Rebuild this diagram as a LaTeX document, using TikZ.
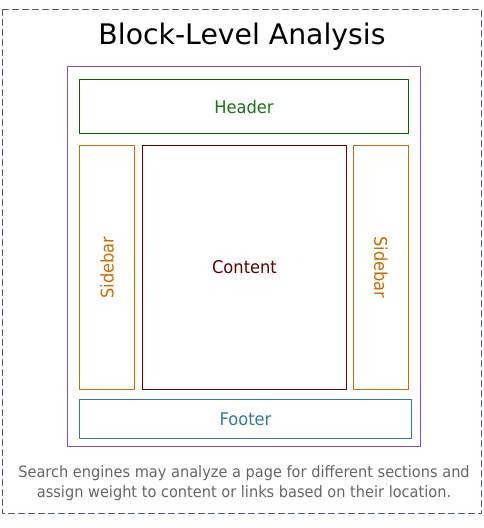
\documentclass[tikz,border=0pt]{standalone}
\usepackage{fontspec}
\setmainfont{DejaVu Sans}
\newfontfamily\narrowfont{DejaVu Sans}[FakeStretch=0.93]
\usepackage{tikz}
\usetikzlibrary{calc}
\definecolor{ggqqgg}{rgb}{0.,0.4,0.}
\definecolor{ggttgg}{rgb}{0.1,0.45,0.1}
\definecolor{ccggqq}{rgb}{0.8,0.42,0.}
\definecolor{ggqqqq}{rgb}{0.38,0.,0.}
\definecolor{bbggaa}{rgb}{0.2,0.47,0.62}
\definecolor{aaddcc}{rgb}{0.53,0.3,0.75}
\definecolor{ddeeff}{rgb}{0.28,0.35,0.5}
\definecolor{grtext}{rgb}{0.4,0.4,0.4}
\tikzstyle{every node}=[font=\narrowfont\fontsize{17.5}{20}\selectfont]
\tikzstyle{block}=[draw,line width=0.9pt,inner sep=0pt]

\begin{document}
\begin{tikzpicture}[line cap=round,line join=round,x=1pt,y=-1pt]
            \useasboundingbox (0,0) rectangle (484,528);
            \draw [dashed,dash pattern=on 6pt off 4pt,line width=0.9pt,color=ddeeff] (2.5,9.5) rectangle (481.5,513.5);
            \node [font=\rmfamily\fontsize{28.3}{30}\selectfont] (title) at (242,37) {Block-Level Analysis};
            \draw [line width=0.9pt,color=aaddcc] (67.5,66.5) rectangle (420.5,446);
            \node [block,color=ggqqgg,minimum width=329pt,minimum height=54pt,text=ggttgg] (header) at (244,106.5) {Header};
            \node [block,color=ccggqq,minimum width=244pt,minimum height=55pt,rotate=90] (sideL) at (107,267.5) {Sidebar};
            \node [block,color=ggqqqq,minimum width=204pt,minimum height=244pt] (content) at (244.5,267.5) {Content};
            \node [block,color=ccggqq,minimum width=244pt,minimum height=55pt,rotate=-90] (sideR) at (381,267.5) {Sidebar};
            \node [block,color=bbggaa,minimum width=332pt,minimum height=39pt] (footer) at (245.5,419) {Footer};
            \node [color=grtext,align=center,font=\narrowfont\fontsize{15.65}{20.6}\selectfont] (caption) at (244,483) {Search engines may analyze a page for different sections and\\assign weight to content or links based on their location.};
\end{tikzpicture}
\end{document}
